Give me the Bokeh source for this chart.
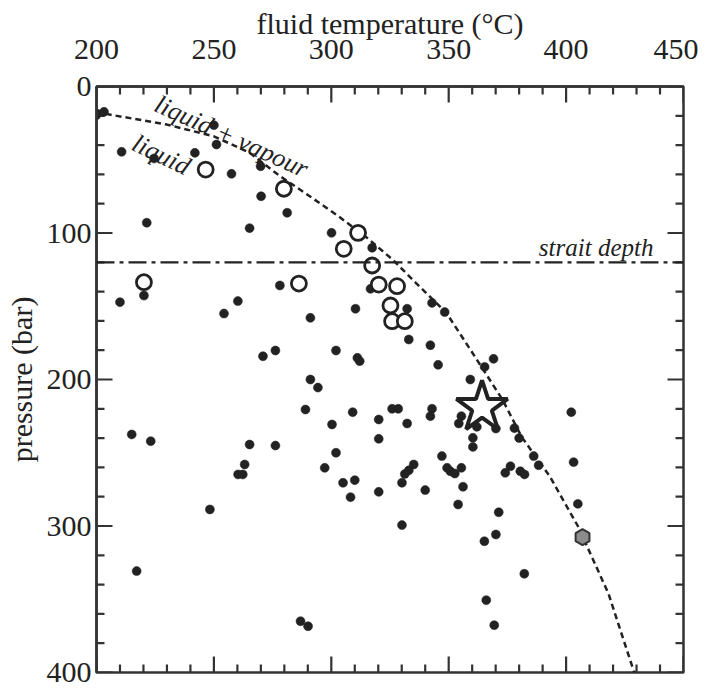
import numpy as np
from bokeh.plotting import figure
from bokeh.models import Range1d, SingleIntervalTicker, Span, Label
from bokeh.embed import file_html
from bokeh.resources import INLINE

# ---- data (fluid temperature in degC, pressure in bar) ----
vent_T = [199.9, 203.2, 210.7, 224.5, 241.9, 250.0, 251.1, 257.5, 269.9, 270.1,
          281.2, 221.4, 265.2, 300.1, 317.4, 278.1, 220.2, 316.7, 310.3, 332.3,
          342.9, 348.3, 333.0, 210.0, 260.2, 254.3, 291.1, 270.9, 276.2, 302.0,
          311.1, 312.1, 291.1, 294.3, 289.0, 309.1, 300.3, 320.2, 325.9, 328.5,
          320.2, 215.0, 223.1, 265.2, 276.2, 302.0, 297.2, 263.1, 260.3, 262.3,
          305.0, 310.0, 308.2, 320.2, 248.3, 217.1, 286.9, 290.1, 342.2, 345.5,
          365.3, 369.1, 359.2, 342.9, 342.2, 355.4, 354.3, 332.3, 362.0, 370.1,
          378.0, 380.0, 360.3, 360.3, 402.2, 403.2, 347.1, 335.1, 333.0, 331.3,
          330.1, 349.3, 350.7, 352.6, 355.4, 376.3, 374.1, 380.5, 382.3, 386.2,
          388.3, 340.0, 356.1, 354.0, 330.1, 405.0, 371.3, 370.1, 365.2, 382.2,
          366.0, 369.4]
vent_P = [19.6, 17.3, 44.6, 49.1, 45.3, 26.4, 39.6, 59.6, 54.4, 74.9,
          86.2, 93.0, 96.7, 99.9, 110.1, 135.8, 142.7, 138.1, 151.7, 151.7,
          147.7, 154.0, 172.7, 147.2, 146.5, 155.0, 157.9, 184.1, 180.2, 180.2,
          185.2, 187.5, 200.0, 205.5, 220.5, 222.3, 230.7, 227.3, 220.0, 220.0,
          240.5, 237.5, 242.1, 244.4, 245.1, 250.0, 260.3, 258.0, 264.8, 264.8,
          270.5, 268.7, 280.3, 276.7, 288.7, 330.8, 365.0, 368.4, 176.6, 190.0,
          191.4, 185.9, 200.0, 220.0, 225.0, 225.0, 230.0, 230.0, 232.3, 233.5,
          233.2, 240.0, 239.8, 246.0, 222.3, 256.4, 252.3, 258.0, 262.0, 264.5,
          270.5, 260.3, 262.6, 264.2, 260.3, 259.2, 263.7, 262.6, 264.8, 252.3,
          258.5, 275.5, 273.2, 285.3, 299.4, 284.9, 290.6, 305.8, 310.4, 332.6,
          350.6, 367.7]

open_T = [246.5, 279.8, 311.4, 305.3, 317.4, 320.2, 328.0, 325.2, 325.9, 331.3, 220.2, 286.2]
open_P = [56.7, 69.8, 99.9, 110.8, 122.2, 135.2, 136.3, 149.5, 160.2, 160.2, 133.6, 134.5]

star_T = [364.2]
star_P = [219.0]

hex_T = [407.0]
hex_P = [307.6]

# two-phase boundary (boiling curve)
curve_T = [200, 205, 230, 250, 265, 278, 290, 303, 315, 326, 336, 349, 361, 373, 381, 393, 405, 418, 429]
curve_P = [16, 19, 26, 34, 45, 61, 74, 88.5, 103, 118, 134, 154.5, 184, 214, 239, 266, 300, 346, 400]

strait_depth = 120

T_MIN, T_MAX = 200, 450
P_MIN, P_MAX = 0, 400
x_major = [200, 250, 300, 350, 400, 450]
y_major = [0, 100, 200, 300, 400]
x_minor_step = 10
y_minor_step = 20

FONT = "Liberation Serif"
INK = "#222222"
FRAME = "#333333"

# layout (pixels)
W, H = 698, 686
BL, BR, BT, BB = 96, 15, 86, 14
FW, FH = W - BL - BR, H - BT - BB

p = figure(width=W, height=H,
           x_range=Range1d(T_MIN, T_MAX), y_range=Range1d(P_MAX, P_MIN),
           x_axis_location="above", y_axis_location="left",
           output_backend="svg", toolbar_location=None,
           min_border_left=BL, min_border_top=BT, min_border_right=BR, min_border_bottom=BB)

p.grid.visible = False
p.outline_line_color = FRAME
p.outline_line_width = 2.5

for ax in p.xaxis:
    ax.ticker = SingleIntervalTicker(interval=50, num_minor_ticks=5)
for ax in p.yaxis:
    ax.ticker = SingleIntervalTicker(interval=100, num_minor_ticks=5)

MAJ_PX, MIN_PX = 16, 8
for ax in p.axis:
    ax.major_tick_in = 0
    ax.major_tick_out = 0
    ax.minor_tick_in = 0
    ax.minor_tick_out = 0
    ax.axis_line_color = FRAME
    ax.axis_line_width = 2.5
    ax.major_label_text_font = FONT
    ax.major_label_text_font_size = "30px"
    ax.major_label_text_color = INK
    ax.axis_label_text_font = FONT
    ax.axis_label_text_font_size = "30px"
    ax.axis_label_text_font_style = "normal"
    ax.axis_label_text_color = INK

p.above[0].axis_label = "fluid temperature (°C)"
p.above[0].major_label_standoff = 28
p.above[0].axis_label_standoff = -3
p.left[0].axis_label = "pressure (bar)"
p.left[0].major_label_standoff = 5
p.left[0].axis_label_standoff = 6

# inward tick marks on all four sides (lengths converted from px to data units)
x_minor = [float(t) for t in np.arange(T_MIN, T_MAX + 1, x_minor_step) if t not in x_major]
y_minor = [float(v) for v in np.arange(P_MIN, P_MAX + 1, y_minor_step) if v not in y_major]
dx_per_px = (T_MAX - T_MIN) / FW
dy_per_px = (P_MAX - P_MIN) / FH
xt = [float(v) for v in x_major] + x_minor
xl = [MAJ_PX] * len(x_major) + [MIN_PX] * len(x_minor)
yt = [float(v) for v in y_major] + y_minor
yl = [MAJ_PX] * len(y_major) + [MIN_PX] * len(y_minor)

tick_kw = dict(line_color=FRAME, line_width=2.2)
p.segment(x0=xt, y0=[float(P_MIN)] * len(xt), x1=xt, y1=[P_MIN + L * dy_per_px for L in xl], **tick_kw)
p.segment(x0=xt, y0=[float(P_MAX)] * len(xt), x1=xt, y1=[P_MAX - L * dy_per_px for L in xl], **tick_kw)
p.segment(x0=[float(T_MIN)] * len(yt), y0=yt, x1=[T_MIN + L * dx_per_px for L in yl], y1=yt, **tick_kw)
p.segment(x0=[float(T_MAX)] * len(yt), y0=yt, x1=[T_MAX - L * dx_per_px for L in yl], y1=yt, **tick_kw)

# strait depth line
p.add_layout(Span(location=strait_depth, dimension="width", line_color=INK,
                  line_width=2.2, line_dash="18 5 4 5"))

# boiling curve
p.line(curve_T, curve_P, line_color=INK, line_width=2.5, line_dash="6 4")

# data
p.scatter(vent_T, vent_P, size=9, fill_color=INK, line_color=INK, line_width=0.5)
p.scatter(open_T, open_P, size=15, fill_color="white", line_color=INK, line_width=2.8)
p.scatter(star_T, star_P, marker="star", size=54, fill_color="white", line_color=INK, line_width=4)
p.scatter(hex_T, hex_P, marker="hex", size=16, angle=0.5236, fill_color="#8c8c8c",
          line_color=FRAME, line_width=2)

# annotations
p.add_layout(Label(x=257.5, y=34.1, text="liquid + vapour", angle=-0.42,
                   text_font=FONT, text_font_style="italic", text_font_size="26px",
                   text_color=INK, text_align="center", text_baseline="middle"))
p.add_layout(Label(x=227.6, y=46.6, text="liquid", angle=-0.45,
                   text_font=FONT, text_font_style="italic", text_font_size="26px",
                   text_color=INK, text_align="center", text_baseline="middle"))
p.add_layout(Label(x=437.2, y=strait_depth - 10, text="strait depth",
                   text_font=FONT, text_font_style="italic", text_font_size="25px",
                   text_color=INK, text_align="right", text_baseline="alphabetic"))

open("out.html", "w").write(file_html(p, INLINE))
